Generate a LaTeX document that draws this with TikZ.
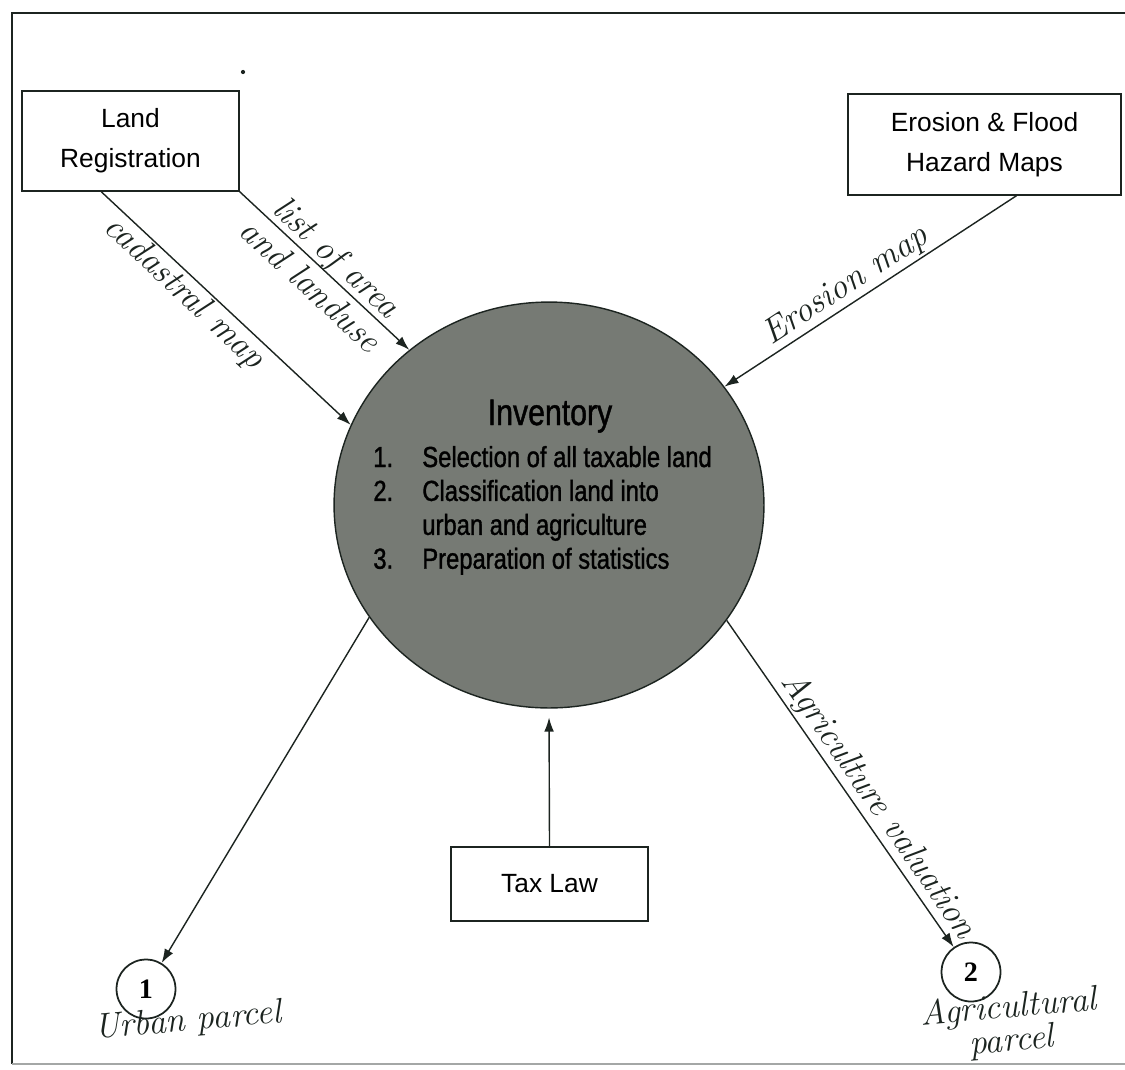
\documentclass[tikz,border=0pt]{standalone}
\usepackage{fontspec}
\newfontfamily\boxfont{Liberation Sans}
\newfontfamily\narrowfont[FakeStretch=0.82, FakeBold=1.2]{Liberation Sans}
\newfontfamily\digitfont{Liberation Serif}
\usetikzlibrary{shapes.geometric, arrows.meta, positioning}
\definecolor{ink}{RGB}{28,36,32}
\definecolor{shade}{RGB}{118,122,116}
\tikzstyle{block} = [draw=ink, fill=white, rectangle, line width=0.8pt, align=center, font=\boxfont\fontsize{15}{22.7}\selectfont]
\tikzstyle{store} = [draw=ink, fill=white, circle, line width=1pt, minimum size=1.18cm, inner sep=0pt, font=\digitfont\bfseries\fontsize{16}{16}\selectfont]
\tikzstyle{hand} = [font=\itshape\fontsize{20}{22}\selectfont, inner sep=1pt, text=ink]
\tikzstyle{flow} = [draw=ink, line width=0.8pt, -{Latex[length=8pt,width=5.5pt]}]

\begin{document}
\begin{tikzpicture}[x=0.02cm, y=-0.02cm]
  \useasboundingbox (0,0) rectangle (1125,1069);
  % frame
  \draw[ink, line width=1.6pt] (1125,13) -- (12,13) -- (12,1064);
  \draw[ink!40, line width=0.8pt] (12,1064) -- (1125,1064);
  \fill[ink] (243,72) circle (1.2pt);

  % process
  \node[ellipse, draw=ink, fill=shade, line width=0.8pt, minimum width=8.6cm, minimum height=8.12cm, inner sep=0pt] (inv) at (549,505) {};
  \node[anchor=base, inner sep=0pt, font=\narrowfont\fontsize{21}{21}\selectfont] (invtitle) at (550,425) {Inventory};
  \node[anchor=base west, inner sep=0pt, font=\narrowfont\fontsize{16.5}{19.3}\selectfont] (invlist) at (373,467)
    {\begin{tabular}[t]{@{}p{0.98cm}@{}l@{}}
      1. & Selection of all taxable land\\
      2. & Classification land into\\
         & urban and agriculture\\
      3. & Preparation of statistics
    \end{tabular}};

  % sources
  \node[block, minimum width=4.34cm, minimum height=2cm] (lr) at (130.5,141) {Land\\Registration};
  \node[block, minimum width=5.46cm, minimum height=2.02cm] (ef) at (984.5,144.5) {Erosion \& Flood\\Hazard Maps};
  \node[block, minimum width=3.94cm, minimum height=1.48cm] (tax) at (549.5,884) {Tax Law};

  % stores
  \node[store] (c1) at (146,989) {1};
  \node[store] (c2) at (971,972) {2};
  \node[hand, rotate=5] (urb) at (188,1022) {Urban parcel};
  \node[hand, rotate=5, align=center, font=\itshape\fontsize{20}{17}\selectfont] (agr) at (1010,1025) {Agricultural\\parcel};

  % flows
  \draw[flow] (lr.-120) -- node[hand, sloped, below, pos=0.38] (cadlbl) {cadastral map} (inv.158);
  \draw[flow] (lr.south east) -- node[hand, sloped, align=center, pos=0.5] (arealbl) {list of area\\and landuse} (inv.132);
  \draw[flow] (ef.-58) -- node[hand, sloped, above, pos=0.55] (erolbl) {Erosion map} (inv.34);
  \draw[flow, shorten >=5pt] (tax.north) -- (inv.south);
  \draw[flow] (inv.-148) -- (c1);
  \draw[flow] (inv.-33) -- node[hand, sloped, above, pos=0.6] (agrlbl) {Agriculture valuation} (c2);
\end{tikzpicture}
\end{document}
